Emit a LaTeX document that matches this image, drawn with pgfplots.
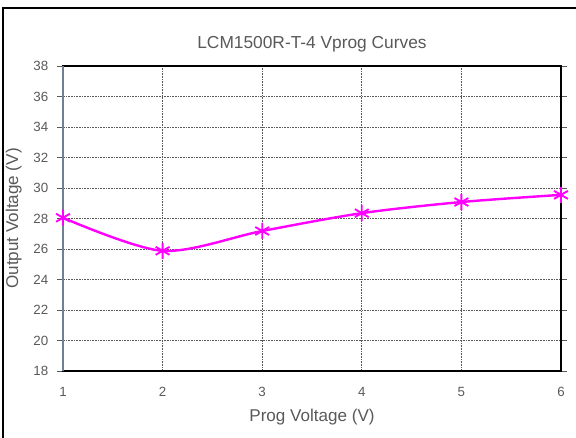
\documentclass[border=0pt]{standalone}
\usepackage{pgfplots}
\pgfplotsset{compat=1.18}
\usepackage{fontspec}
\setmainfont{Liberation Sans}
\definecolor{tickgray}{HTML}{595959}
\definecolor{leftax}{HTML}{708090}
\definecolor{mag}{HTML}{FF00FF}
\begin{document}
\begin{tikzpicture}[x=0.75pt,y=0.75pt]
\useasboundingbox (-63,-67) rectangle (513,371);
\draw[line width=1.5pt,black] (-60,-100) rectangle (600,363);
\begin{axis}[
  at={(0,0)}, anchor=south west,
  scale only axis,
  width=498*0.75pt, height=305*0.75pt,
  xmin=1, xmax=6, ymin=18, ymax=38,
  xtick={1,...,6}, ytick={18,20,...,38},
  grid=major,
  major grid style={black!65, dash pattern=on 1.2pt off 0.8pt, line width=0.5pt},
  axis line style={line width=1.5pt,black},
  tick style={tickgray, line width=0.4pt},
  tick align=outside,
  major tick length=4.5pt,
  xtick style={draw=none},
  tick label style={font=\fontsize{10}{11}\selectfont, text=tickgray},
  /pgf/number format/assume math mode=true,
  xticklabel style={yshift=-4pt},
  yticklabel style={xshift=-3pt},
  title={LCM1500R-T-4 Vprog Curves},
  title style={font=\fontsize{13}{15}\selectfont, text=tickgray, yshift=1pt},
  xlabel={Prog Voltage (V)},
  ylabel={Output Voltage (V)},
  label style={font=\fontsize{12.8}{14}\selectfont, text=tickgray},
  xlabel style={yshift=-3pt},
  ylabel style={yshift=2pt},
  clip=false,
]
\addplot[mag, line width=1.8pt, smooth, tension=0.5, mark=asterisk, mark size=6pt, mark options={line width=1.4pt}]
  coordinates {(1,28.05) (2,25.88) (3,27.18) (4,28.35) (5,29.08) (6,29.55)};
\draw[leftax, line width=1.5pt] (axis cs:1,18) -- (axis cs:1,38);
\end{axis}
\end{tikzpicture}
\end{document}
